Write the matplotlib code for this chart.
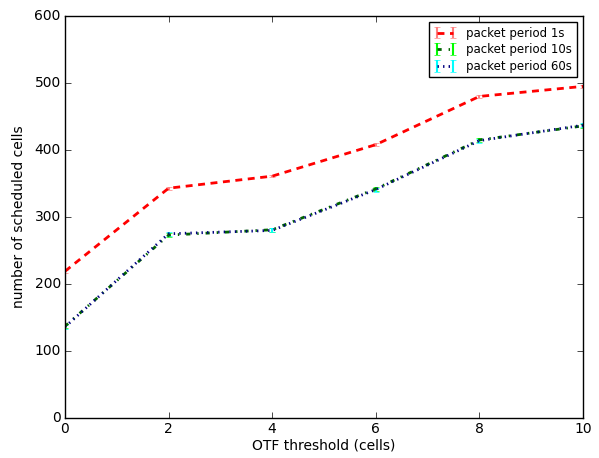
import matplotlib
matplotlib.use('Agg')
import matplotlib.pyplot as plt

thresholds = [0, 2, 4, 6, 8, 10]
cells_1s = [219, 343, 361, 408, 480, 495]
cells_10s = [137, 273, 281, 342, 415, 436]
cells_60s = [136, 275, 280, 341, 414, 437]
err_1s = [2, 2, 2, 2, 2, 2]
err_10s = [3, 3, 3, 3, 3, 3]
err_60s = [3, 3, 3, 3, 3, 3]

plt.style.use('classic')
fig = plt.figure(figsize=(5.99, 4.58), dpi=100, facecolor='white')
ax = fig.add_axes([0.1085, 0.0873, 0.8647, 0.8777])

ax.errorbar(thresholds, cells_1s, yerr=err_1s, color='red', ecolor='#ff8080',
            linestyle='--', dashes=(5, 4), linewidth=2, elinewidth=1.5,
            capsize=2.5, label='packet period 1s')
ax.errorbar(thresholds, cells_10s, yerr=err_10s, color='darkgreen', ecolor='lime',
            linestyle='-.', linewidth=2, elinewidth=1.5,
            capsize=2.5, label='packet period 10s')
ax.errorbar(thresholds, cells_60s, yerr=err_60s, color='navy', ecolor='cyan',
            linestyle=':', linewidth=2, elinewidth=1.5,
            capsize=2.5, label='packet period 60s')

ax.set_xlim(0, 10)
ax.set_ylim(0, 600)
ax.set_xlabel('OTF threshold (cells)', fontsize=10, labelpad=2)
ax.set_ylabel('number of scheduled cells', fontsize=10, labelpad=6)
ax.tick_params(labelsize=10, pad=3)
ax.legend(loc='upper right', fontsize=8.5, handlelength=2.0,
          borderaxespad=0.5, labelspacing=0.3)

fig.savefig('out.png', dpi=100, facecolor='white')
